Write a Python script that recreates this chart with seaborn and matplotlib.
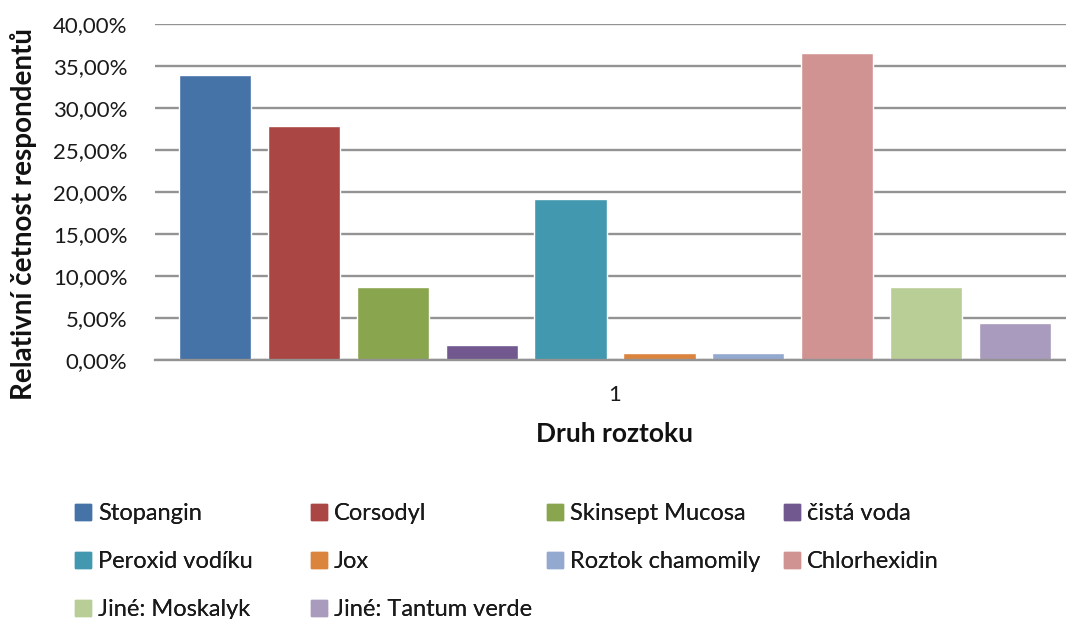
import matplotlib
matplotlib.use("Agg")
import matplotlib.pyplot as plt
import matplotlib.patches as mpatches
import matplotlib.ticker as mticker
import pandas as pd
import seaborn as sns

# Data (relative frequency of respondents, %)
names = [
    "Stopangin", "Corsodyl", "Skinsept Mucosa", "čistá voda", "Peroxid vodíku",
    "Jox", "Roztok chamomily", "Chlorhexidin", "Jiné: Moskalyk", "Jiné: Tantum verde",
]
values = [33.91, 27.83, 8.70, 1.74, 19.13, 0.87, 0.87, 36.52, 8.70, 4.35]
group = ["1"] * len(names)
colors = [
    "#4572A7", "#AA4643", "#89A54E", "#71588F", "#4198AF",
    "#DB843D", "#93A9CF", "#D19392", "#B9CD96", "#A99BBD",
]

df = pd.DataFrame({"group": group, "name": names, "value": values})

sns.set_theme(style="white")
plt.rcParams["font.family"] = ["Lato", "DejaVu Sans"]

W, H = 1066, 619
fig = plt.figure(figsize=(W / 100, H / 100), dpi=100)
ax = fig.add_axes([155 / W, (H - 360) / H, (W - 155) / W, 336 / H])

sns.barplot(
    data=df, x="group", y="value", hue="name", hue_order=names,
    palette=colors, gap=0.19, width=0.8, saturation=1, ax=ax, legend=False,
)

ax.set_ylim(0, 40)
ax.set_xlim(-0.4137, 0.4056)
ax.yaxis.set_major_locator(mticker.MultipleLocator(5))
ax.yaxis.set_major_formatter(
    mticker.FuncFormatter(lambda v, p: f"{v:.2f}".replace(".", ",") + "%")
)
ax.grid(axis="y", color="#939393", linewidth=1.7)
ax.set_axisbelow(True)
for side in ["top", "right", "left"]:
    ax.spines[side].set_visible(False)
ax.spines["bottom"].set_color("#939393")
ax.spines["bottom"].set_linewidth(1.7)
ax.tick_params(axis="y", length=0, pad=20, labelsize=16, labelcolor="#1a1a1a")
ax.tick_params(axis="x", length=0, pad=18, labelsize=16, labelcolor="#1a1a1a")
ax.set_xlabel("")
ax.set_ylabel("")

fig.text(614 / W, 1 - 434 / H, "Druh roztoku", ha="center", va="center",
         fontsize=19, fontweight="bold", color="#111111")
fig.text(24 / W, 1 - 214 / H, "Relativní četnost respondentů", ha="center",
         va="center", rotation=90, fontsize=20, fontweight="bold", color="#111111")

# Legend: 4 equal-width columns, filled row by row
col_x = [75, 311, 547, 784]
for j, x in enumerate(col_x):
    idx = list(range(j, len(names), 4))
    handles = [mpatches.Patch(color=colors[i], label=names[i]) for i in idx]
    leg = fig.legend(
        handles=handles, loc="upper left", bbox_to_anchor=(x / W, 1 - 503 / H),
        frameon=False, fontsize=17, handlelength=0.68, handleheight=0.68,
        handletextpad=0.3, labelspacing=1.15, borderpad=0, borderaxespad=0,
    )
    for t in leg.get_texts():
        t.set_color("#1a1a1a")
    fig.add_artist(leg)

fig.savefig("out.png", dpi=100)
